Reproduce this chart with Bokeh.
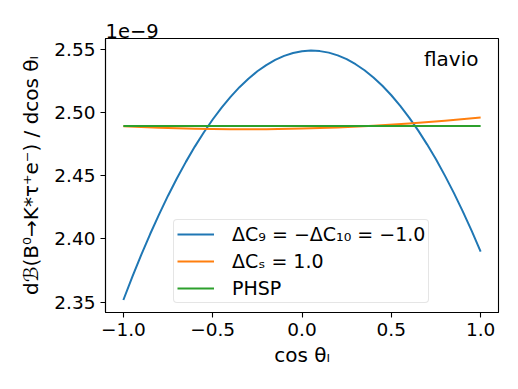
from bokeh.plotting import figure
from bokeh.models import FixedTicker, Label, Range1d, Legend, LegendItem
from bokeh.embed import file_html
from bokeh.resources import INLINE

# cos(theta_l) sample points
x_vals = [-1.00, -0.95, -0.90, -0.85, -0.80, -0.75, -0.70, -0.65, -0.60, -0.55,
          -0.50, -0.45, -0.40, -0.35, -0.30, -0.25, -0.20, -0.15, -0.10, -0.05,
          0.00, 0.05, 0.10, 0.15, 0.20, 0.25, 0.30, 0.35, 0.40, 0.45,
          0.50, 0.55, 0.60, 0.65, 0.70, 0.75, 0.80, 0.85, 0.90, 0.95, 1.00]
# values in units of 1e-9
c9_vals = [2.3516, 2.3699, 2.3873, 2.4039, 2.4195, 2.4343, 2.4481, 2.4611, 2.4732, 2.4844,
           2.4947, 2.5041, 2.5126, 2.5203, 2.5270, 2.5329, 2.5378, 2.5419, 2.5451, 2.5474,
           2.5488, 2.5493, 2.5489, 2.5477, 2.5455, 2.5425, 2.5385, 2.5337, 2.5280, 2.5214,
           2.5139, 2.5055, 2.4962, 2.4861, 2.4750, 2.4631, 2.4502, 2.4365, 2.4219, 2.4064,
           2.3900]
x_cs = [-1.0, -0.8, -0.6, -0.4, -0.2, 0.0, 0.2, 0.4, 0.6, 0.8, 1.0]
cs_vals = [2.4893, 2.4881, 2.4873, 2.4870, 2.4870, 2.4875, 2.4884, 2.4898, 2.4915,
           2.4937, 2.4963]
x_phsp = [-1.0, 0.0, 1.0]
phsp_vals = [2.4895, 2.4895, 2.4895]

labels = ["ΔC₉ = −ΔC₁₀ = −1.0", "ΔCₛ = 1.0", "PHSP"]
colors = ["#1f77b4", "#ff7f0e", "#2ca02c"]

x_ticks = [-1.0, -0.5, 0.0, 0.5, 1.0]
x_tick_labels = ["−1.0", "−0.5", "0.0", "0.5", "1.0"]
y_ticks = [2.35, 2.40, 2.45, 2.50, 2.55]
y_tick_labels = ["2.35", "2.40", "2.45", "2.50", "2.55"]

FONT = "DejaVu Sans"

p = figure(width=510, height=381, output_backend="svg", toolbar_location=None,
           x_range=Range1d(-1.1, 1.1), y_range=Range1d(2.3417, 2.5589),
           min_border_left=105, min_border_right=12, min_border_top=38,
           min_border_bottom=69)
p.xgrid.visible = False
p.ygrid.visible = False
p.outline_line_color = "black"
p.outline_line_width = 1.1
p.background_fill_color = "white"
p.border_fill_color = "white"

p.title.text = "1e−9"
p.title.align = "left"
p.title.text_font = FONT
p.title.text_font_size = "19.5px"
p.title.text_font_style = "normal"
p.title.text_color = "black"
p.title.standoff = 2
p.title.offset = 0

r1 = p.line(x_vals, c9_vals, line_color=colors[0], line_width=2, line_join="round")
r2 = p.line(x_cs, cs_vals, line_color=colors[1], line_width=2, line_join="round")
r3 = p.line(x_phsp, phsp_vals, line_color=colors[2], line_width=2)

for ax in (p.xaxis[0], p.yaxis[0]):
    ax.major_label_text_font = FONT
    ax.major_label_text_font_size = "18.5px"
    ax.major_label_text_color = "black"
    ax.axis_label_text_font = FONT
    ax.axis_label_text_font_size = "20px"
    ax.axis_label_text_font_style = "normal"
    ax.axis_label_text_color = "black"
    ax.minor_tick_line_color = None
    ax.major_tick_out = 5
    ax.major_tick_in = 0
    ax.major_tick_line_width = 1.1
    ax.major_tick_line_color = "black"
    ax.axis_line_color = "black"
    ax.axis_line_width = 1.1

p.xaxis.ticker = FixedTicker(ticks=x_ticks)
p.xaxis.major_label_overrides = dict(zip(x_ticks, x_tick_labels))
p.yaxis.ticker = FixedTicker(ticks=y_ticks)
p.yaxis.major_label_overrides = dict(zip(y_ticks, y_tick_labels))
p.xaxis.axis_label = "cos θₗ"
p.yaxis.axis_label = "dℬ(B⁰→K*τ⁺e⁻) / dcos θₗ"
p.xaxis.axis_label_standoff = 4
p.yaxis.axis_label_standoff = 8

legend = Legend(items=[LegendItem(label=labels[0], renderers=[r1]),
                       LegendItem(label=labels[1], renderers=[r2]),
                       LegendItem(label=labels[2], renderers=[r3])],
                location=(68, 9))
legend.label_text_font = FONT
legend.label_text_font_size = "19px"
legend.label_text_color = "black"
legend.glyph_width = 37
legend.label_standoff = 18
legend.spacing = 5
legend.padding = 3
legend.margin = 0
legend.border_line_color = "#cccccc"
legend.border_line_width = 1
legend.border_radius = 4
legend.background_fill_alpha = 0.8
p.add_layout(legend, "center")

p.add_layout(Label(x=373, y=254, x_units="screen", y_units="screen", text="flavio",
                   text_font=FONT, text_font_size="20px", text_align="right",
                   text_baseline="alphabetic", text_color="black"))

open("out.html", "w").write(file_html(p, INLINE))
